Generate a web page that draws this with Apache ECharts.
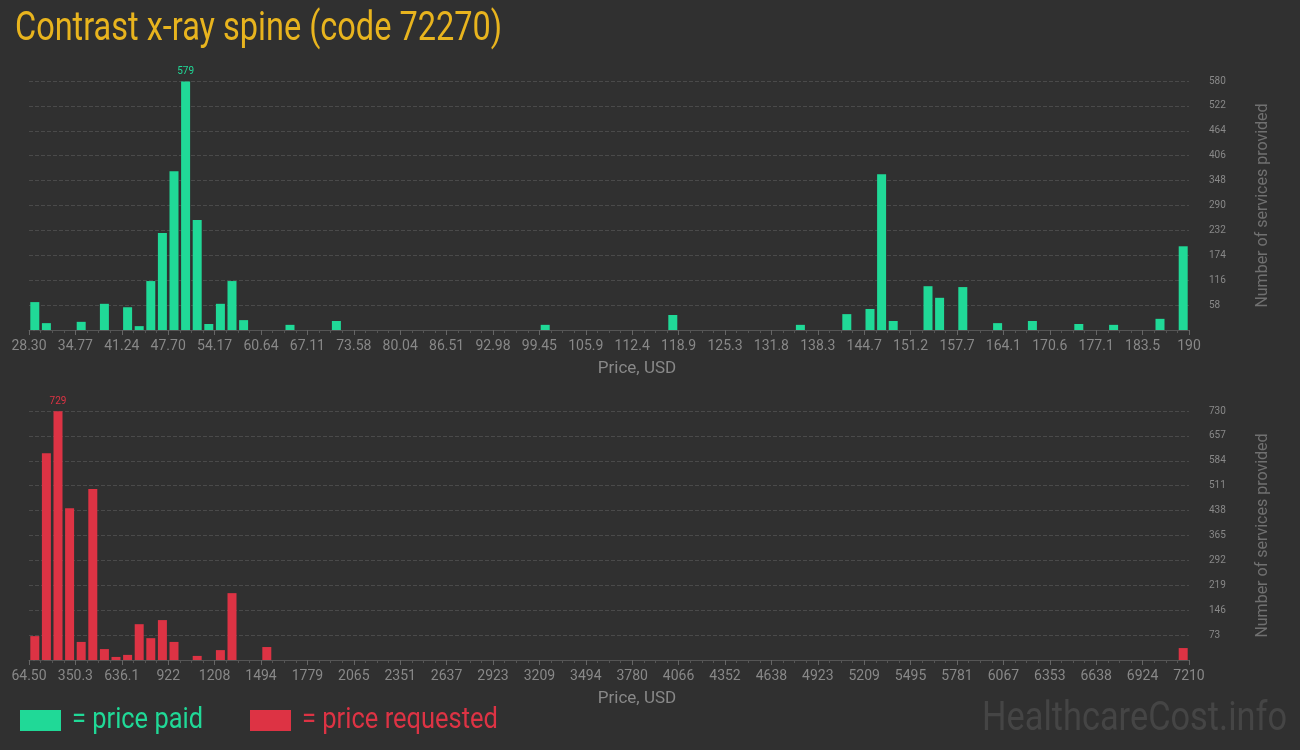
<!DOCTYPE html>
<html>
<head>
<meta charset="utf-8">
<script src="https://cdn.jsdelivr.net/npm/echarts@6/dist/echarts.min.js"></script>
<style>
html,body{margin:0;padding:0;background:#303030;}
#c{width:1300px;height:750px;}
</style>
</head>
<body>
<div id="c"></div>
<script>
// ---- data ----
const titleText = 'Contrast x-ray spine (code 72270)';
const paidTickLabels = ['28.30','34.77','41.24','47.70','54.17','60.64','67.11','73.58','80.04','86.51','92.98','99.45','105.9','112.4','118.9','125.3','131.8','138.3','144.7','151.2','157.7','164.1','170.6','177.1','183.5','190'];
const requestedTickLabels = ['64.50','350.3','636.1','922','1208','1494','1779','2065','2351','2637','2923','3209','3494','3780','4066','4352','4638','4923','5209','5495','5781','6067','6353','6638','6924','7210'];
// histogram bins (100 bins per chart), only non-empty bins listed
const paidBins   = [0, 1, 4, 6, 8, 9, 10, 11, 12, 13, 14, 15, 16, 17, 18, 22, 26, 44, 55, 66, 70, 72, 73, 74, 77, 78, 80, 83, 86, 90, 93, 97, 99];
const paidCounts = [65, 16, 19, 61, 53, 9, 114, 226, 370, 579, 256, 14, 61, 114, 23, 12, 21, 12, 35, 12, 37, 49, 363, 21, 102, 75, 100, 16, 21, 14, 12, 26, 195];
const requestedBins   = [0, 1, 2, 3, 4, 5, 6, 7, 8, 9, 10, 11, 12, 14, 16, 17, 20, 99];
const requestedCounts = [70, 606, 729, 445, 53, 501, 32, 9, 15, 105, 64, 117, 53, 12, 29, 196, 38, 35];
const paidAxisMax = 580, paidAxisStep = 58;
const requestedAxisMax = 730, requestedAxisStep = 73;
const binCount = 100, binsPerLabel = 4;

// ---- styles ----
const GREEN = '#20d997', RED = '#dd3344', GOLD = '#e8b41e';
const ROB = 'Roboto';

const mctx = document.createElement('canvas').getContext('2d');
function fit(text, size, family, target) {
  mctx.font = size + 'px ' + family;
  return target / mctx.measureText(text).width;
}

function makeSeries(bins, counts, color, idx) {
  let maxI = 0;
  counts.forEach((c, i) => { if (c > counts[maxI]) maxI = i; });
  return {
    type: 'bar', xAxisIndex: idx, yAxisIndex: idx, barWidth: 9,
    itemStyle: { color: color },
    data: bins.map((b, i) => {
      const d = { value: [b + 0.5, counts[i]] };
      if (i === maxI) d.label = { show: true, position: 'top', distance: 5, color: color, fontSize: 10, fontFamily: ROB };
      return d;
    }),
    animation: false
  };
}

function makeX(idx, labels) {
  return {
    type: 'value', gridIndex: idx, min: 0, max: binCount, interval: binsPerLabel,
    axisLine: { show: true, lineStyle: { color: '#555' } },
    axisTick: { show: true, length: 5, lineStyle: { color: '#666' } },
    minorTick: { show: true, splitNumber: binsPerLabel, length: 3, lineStyle: { color: '#555' } },
    splitLine: { show: false },
    axisLabel: { color: '#888', fontSize: 14, fontFamily: ROB, margin: 9, showMinLabel: true, showMaxLabel: true,
      formatter: v => labels[Math.round(v / binsPerLabel)] },
    name: 'Price, USD', nameLocation: 'middle', nameGap: 30,
    nameTextStyle: { color: '#888', fontSize: 17, fontFamily: ROB, padding: [0, 0, 0, 56] }
  };
}
function makeY(idx, max, step) {
  return {
    type: 'value', gridIndex: idx, position: 'right', min: 0, max: max, interval: step,
    axisLine: { show: false },
    axisTick: { show: true, length: 15, lineStyle: { color: '#4a4a4a', type: 'dashed' } },
    splitLine: { show: true, lineStyle: { color: '#4a4a4a', type: 'dashed' } },
    axisLabel: { color: '#888', fontSize: 10, fontFamily: ROB, margin: 20, formatter: v => v === 0 ? '' : String(v) },
    name: 'Number of services provided', nameLocation: 'middle', nameGap: 66,
    nameTextStyle: { color: '#707070', fontSize: 16, fontFamily: ROB }
  };
}

const chart = echarts.init(document.getElementById('c'), null, { renderer: 'canvas' });
chart.setOption({
  backgroundColor: '#303030',
  animation: false,
  grid: [
    { left: 29, right: 111, top: 81, height: 249 },
    { left: 29, right: 111, top: 411, height: 249 }
  ],
  xAxis: [makeX(0, paidTickLabels), makeX(1, requestedTickLabels)],
  yAxis: [makeY(0, paidAxisMax, paidAxisStep), makeY(1, requestedAxisMax, requestedAxisStep)],
  series: [makeSeries(paidBins, paidCounts, GREEN, 0), makeSeries(requestedBins, requestedCounts, RED, 1)],
  graphic: [
    { type: 'text', x: 15, y: 30, scaleX: fit(titleText, 40, ROB, 487),
      style: { text: titleText, fill: GOLD, fontSize: 40, fontFamily: ROB, verticalAlign: 'middle' } },
    { type: 'rect', shape: { x: 20, y: 710, width: 41, height: 21 }, style: { fill: GREEN } },
    { type: 'text', x: 72, y: 720, scaleX: fit('= price paid', 30, ROB, 131),
      style: { text: '= price paid', fill: GREEN, fontSize: 30, fontFamily: ROB, verticalAlign: 'middle' } },
    { type: 'rect', shape: { x: 250, y: 710, width: 41, height: 21 }, style: { fill: RED } },
    { type: 'text', x: 302, y: 720, scaleX: fit('= price requested', 30, ROB, 196),
      style: { text: '= price requested', fill: RED, fontSize: 30, fontFamily: ROB, verticalAlign: 'middle' } },
    { type: 'text', x: 982, y: 720, scaleX: fit('HealthcareCost.info', 40, ROB, 305),
      style: { text: 'HealthcareCost.info', fill: '#454545', fontSize: 40, fontFamily: ROB, verticalAlign: 'middle' } }
  ]
});
</script>
</body>
</html>
